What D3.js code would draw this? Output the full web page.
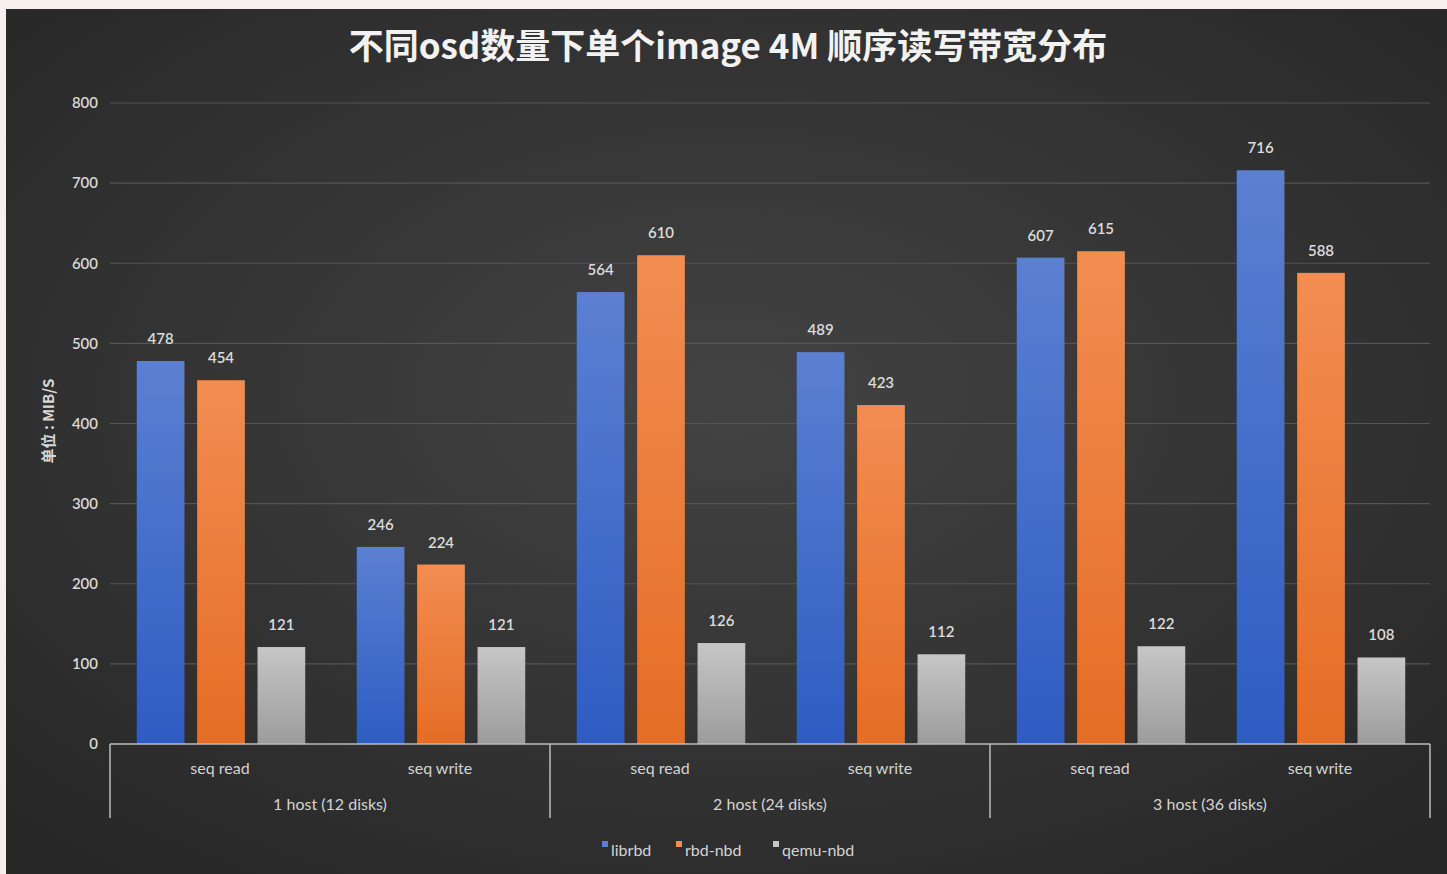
<!DOCTYPE html>
<html>
<head>
<meta charset="utf-8">
<script src="https://cdn.jsdelivr.net/npm/d3@7"></script>
<style>
  html, body { margin: 0; padding: 0; background: #f7efee; }
  svg { display: block; }
</style>
</head>
<body>
<svg id="chart" width="1447" height="874"></svg>
<script>
const hosts = ["1 host (12 disks)", "2 host (24 disks)", "3 host (36 disks)"];
const ops = ["seq read", "seq write"];
const seriesNames = ["librbd", "rbd-nbd", "qemu-nbd"];
const librbd = [478, 246, 564, 489, 607, 716];
const rbdNbd = [454, 224, 610, 423, 615, 588];
const qemuNbd = [121, 121, 126, 112, 122, 108];
const yTicks = [0, 100, 200, 300, 400, 500, 600, 700, 800];
const title = "不同osd数量下单个image 4M 顺序读写带宽分布";
const yLabel = "单位 : MIB/S";

(function () {
const svg = d3.select("#chart");
const W = 1447, H = 874;
const defs = svg.append("defs");

const bg = defs.append("radialGradient").attr("id", "bg")
  .attr("cx", "50%").attr("cy", "45%").attr("r", "70%");
bg.append("stop").attr("offset", "0%").attr("stop-color", "#434343");
bg.append("stop").attr("offset", "100%").attr("stop-color", "#272727");

const colors = [["#5b80d2", "#2e5cc2"], ["#f28d52", "#e56d25"], ["#c6c6c6", "#9c9c9c"]];
colors.forEach((c, i) => {
  const g = defs.append("linearGradient").attr("id", "g" + i)
    .attr("x1", 0).attr("y1", 0).attr("x2", 0).attr("y2", 1);
  g.append("stop").attr("offset", "0%").attr("stop-color", c[0]);
  g.append("stop").attr("offset", "100%").attr("stop-color", c[1]);
});

svg.append("rect").attr("x", 6).attr("y", 9).attr("width", W - 6).attr("height", H - 9)
  .attr("fill", "url(#bg)");

const mLeft = 110, mRight = 1430, mTop = 103, mBottom = 744;
const y = d3.scaleLinear().domain([0, 800]).range([mBottom, mTop]);

const cats = [];
hosts.forEach(h => ops.forEach(o => cats.push(h + "|" + o)));
const x = d3.scaleBand().domain(cats).range([mLeft, mRight]).padding(0);
const xh = d3.scaleBand().domain(hosts).range([mLeft, mRight]).padding(0);
const xs = d3.scaleBand().domain(seriesNames).range([2, x.bandwidth()])
  .paddingInner(0.21).paddingOuter(0.41);

// grid
svg.append("g").selectAll("line").data(yTicks.filter(d => d > 0)).join("line")
  .attr("x1", mLeft).attr("x2", mRight)
  .attr("y1", d => y(d)).attr("y2", d => y(d))
  .attr("stroke", "#555").attr("stroke-width", 1.2);

// y axis labels
const yAxis = d3.axisLeft(y).tickValues(yTicks).tickSize(0).tickPadding(12);
const ya = svg.append("g").attr("transform", `translate(${mLeft},0)`).call(yAxis);
ya.select(".domain").remove();
ya.selectAll("text").attr("fill", "#d8d8d8").attr("font-size", 15)
  .attr("font-family", "Lato, 'Noto Sans', sans-serif").attr("font-weight", 600);

// bars
const data = [librbd, rbdNbd, qemuNbd];
const barG = svg.append("g");
cats.forEach((c, ci) => {
  seriesNames.forEach((s, si) => {
    const v = data[si][ci];
    const bx = x(c) + xs(s);
    barG.append("rect")
      .attr("x", bx).attr("y", y(v))
      .attr("width", xs.bandwidth()).attr("height", y(0) - y(v))
      .attr("fill", `url(#g${si})`);
    barG.append("text")
      .attr("x", bx + xs.bandwidth() / 2).attr("y", y(v) - 17)
      .attr("text-anchor", "middle")
      .attr("fill", "#dcdcdc").attr("font-size", 15)
      .attr("font-family", "Lato, 'Noto Sans', sans-serif").attr("font-weight", 600)
      .text(v);
  });
});

// x axis baseline & separators
svg.append("line").attr("x1", mLeft).attr("x2", mRight).attr("y1", mBottom).attr("y2", mBottom)
  .attr("stroke", "#bdbdbd").attr("stroke-width", 1.5);
const seps = hosts.map(h => xh(h)).concat([mRight]);
svg.append("g").selectAll("line").data(seps).join("line")
  .attr("x1", d => d).attr("x2", d => d).attr("y1", mBottom).attr("y2", 818)
  .attr("stroke", "#bdbdbd").attr("stroke-width", 1.5);

// inner labels
svg.append("g").selectAll("text").data(cats).join("text")
  .attr("x", d => x(d) + x.bandwidth() / 2).attr("y", 774)
  .attr("text-anchor", "middle").attr("fill", "#d4d4d4").attr("font-size", 16)
  .attr("font-family", "Lato, 'Noto Sans', sans-serif")
  .text(d => d.split("|")[1]);
svg.append("g").selectAll("text").data(hosts).join("text")
  .attr("x", d => xh(d) + xh.bandwidth() / 2).attr("y", 810)
  .attr("text-anchor", "middle").attr("fill", "#d4d4d4").attr("font-size", 16)
  .attr("font-family", "Lato, 'Noto Sans', sans-serif")
  .text(d => d);

// title
svg.append("text").attr("x", 728).attr("y", 59).attr("text-anchor", "middle")
  .attr("fill", "#f2f2f2").attr("font-size", 35).attr("font-weight", "bold")
  .attr("font-family", "'Noto Sans CJK SC', sans-serif").text(title);

// y label
svg.append("text").attr("transform", "translate(54,421) rotate(-90)")
  .attr("text-anchor", "middle").attr("fill", "#d8d8d8").attr("font-size", 15)
  .attr("font-weight", "bold").attr("font-family", "'Noto Sans CJK SC', sans-serif")
  .text(yLabel);

// legend
const legX = [602, 676, 773];
const lg = svg.append("g");
seriesNames.forEach((s, i) => {
  lg.append("rect").attr("x", legX[i]).attr("y", 841).attr("width", 6).attr("height", 6)
    .attr("fill", colors[i][0]);
  lg.append("text").attr("x", legX[i] + 9).attr("y", 856)
    .attr("fill", "#d4d4d4").attr("font-size", 16)
    .attr("font-family", "Lato, 'Noto Sans', sans-serif").text(s);
});
})();
</script>
</body>
</html>
